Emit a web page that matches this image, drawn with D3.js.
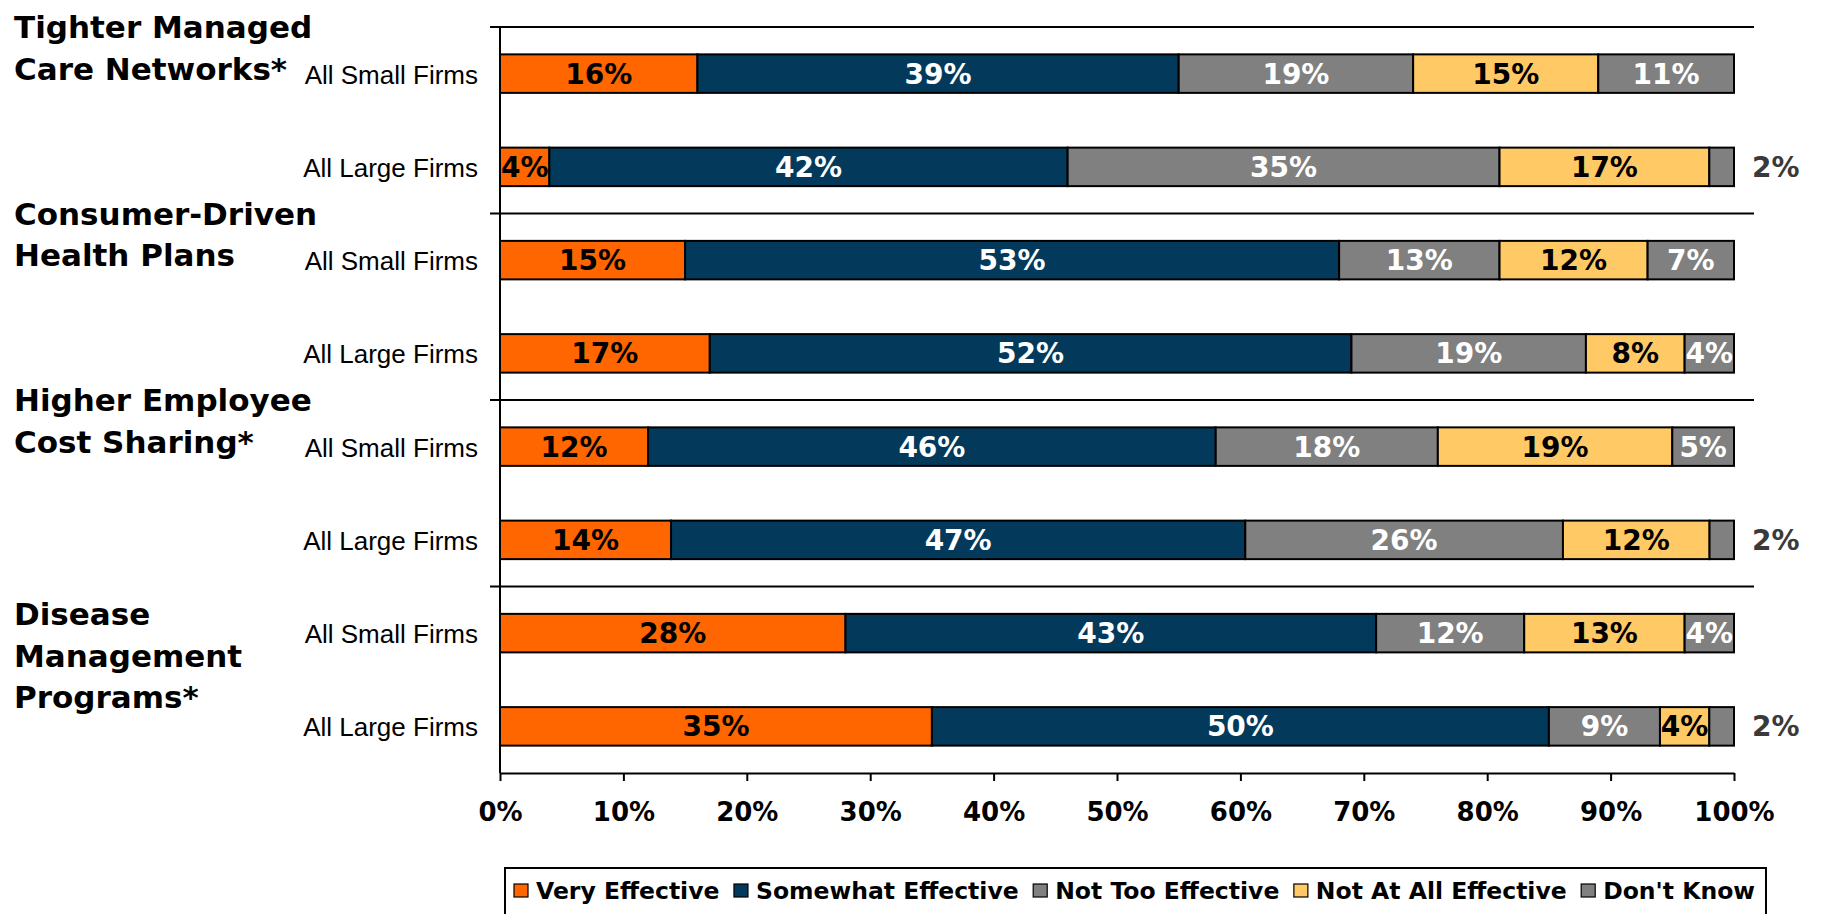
<!DOCTYPE html>
<html>
<head>
<meta charset="utf-8">
<script src="https://cdn.jsdelivr.net/npm/d3@7"></script>
<style>
  body { margin: 0; background: #ffffff; }
  svg { display: block; }
</style>
</head>
<body>
<svg id="chart" width="1828" height="914"></svg>
<script>
// Strategy groups (multi-line labels) and firm sizes within each group
const strategies = [
  ["Tighter Managed", "Care Networks*"],
  ["Consumer-Driven", "Health Plans"],
  ["Higher Employee", "Cost Sharing*"],
  ["Disease", "Management", "Programs*"]
];
const firmSizes = ["All Small Firms", "All Large Firms"];
const responses = ["Very Effective", "Somewhat Effective", "Not Too Effective", "Not At All Effective", "Don't Know"];

// Percent of firms giving each response, one entry per row (small, large for each strategy)
const veryEffective     = [16,  4, 15, 17, 12, 14, 28, 35];
const somewhatEffective = [39, 42, 53, 52, 46, 47, 43, 50];
const notTooEffective   = [19, 35, 13, 19, 18, 26, 12,  9];
const notAtAllEffective = [15, 17, 12,  8, 19, 12, 13,  4];
const dontKnow          = [11,  2,  7,  4,  5,  2,  4,  2];

const xTickValues = [0, 10, 20, 30, 40, 50, 60, 70, 80, 90, 100];
const xTickLabels = ["0%", "10%", "20%", "30%", "40%", "50%", "60%", "70%", "80%", "90%", "100%"];

const colors = ["#FF6600", "#033A5C", "#808080", "#FFC966", "#808080"];
const labelColors = ["#000000", "#ffffff", "#ffffff", "#000000", "#ffffff"];

// Build one record per bar
const series = [veryEffective, somewhatEffective, notTooEffective, notAtAllEffective, dontKnow];
const rows = [];
strategies.forEach((s, gi) => {
  firmSizes.forEach((f, fi) => {
    const i = gi * firmSizes.length + fi;
    const rec = { id: gi + "|" + f, group: gi, firm: f };
    responses.forEach((r, ri) => { rec[r] = series[ri][i]; });
    rows.push(rec);
  });
});

const svg = d3.select("#chart");

const x = d3.scaleLinear().domain([0, 1]).range([500, 1734]);
const y = d3.scaleBand()
  .domain(rows.map(d => d.id))
  .range([27, 773])
  .paddingInner(0.587)
  .paddingOuter(0.2935);

const stacked = d3.stack().keys(responses).offset(d3.stackOffsetExpand)(rows);

// Group separator lines (extend across the category label column)
const gap = y.step() * y.paddingInner() / 2;
const groupTops = strategies.map((s, gi) => y(rows[gi * firmSizes.length].id) - gap);
svg.append("g").selectAll("line")
  .data(groupTops)
  .join("line")
  .attr("x1", 490).attr("x2", 1754)
  .attr("y1", d => d).attr("y2", d => d)
  .attr("stroke", "#000").attr("stroke-width", 2);

// Stacked bars
const layers = svg.append("g").selectAll("g")
  .data(stacked)
  .join("g")
  .attr("fill", (d, i) => colors[i]);

layers.selectAll("rect")
  .data(d => d)
  .join("rect")
  .attr("x", d => x(d[0]))
  .attr("y", d => y(d.data.id))
  .attr("width", d => x(d[1]) - x(d[0]))
  .attr("height", y.bandwidth())
  .attr("stroke", "#000")
  .attr("stroke-width", 2);

// Value labels
const labels = svg.append("g")
  .attr("font-family", "DejaVu Sans, Verdana, sans-serif")
  .attr("font-weight", "bold")
  .attr("font-size", 28);

stacked.forEach((layer, li) => {
  layer.forEach(seg => {
    const v = seg.data[responses[li]];
    const cy = y(seg.data.id) + y.bandwidth() / 2 + 10;
    const inside = v >= 3;
    labels.append("text")
      .attr("x", inside ? (x(seg[0]) + x(seg[1])) / 2 : x(seg[1]) + 18)
      .attr("y", cy)
      .attr("text-anchor", inside ? "middle" : "start")
      .attr("fill", inside ? labelColors[li] : "#3a3a3a")
      .text(v + "%");
  });
});

// Vertical category axis line
svg.append("line")
  .attr("x1", x(0)).attr("x2", x(0))
  .attr("y1", y.range()[0]).attr("y2", y.range()[1])
  .attr("stroke", "#000").attr("stroke-width", 2);

// Bottom percentage axis
const xAxis = d3.axisBottom(x)
  .tickValues(xTickValues.map(v => v / 100))
  .tickFormat((d, i) => xTickLabels[i])
  .tickSize(8)
  .tickSizeOuter(0)
  .tickPadding(22);

const axisG = svg.append("g")
  .attr("transform", `translate(0,${y.range()[1]})`)
  .call(xAxis);
axisG.select(".domain").attr("stroke", "#000").attr("stroke-width", 2);
axisG.selectAll(".tick line").attr("stroke", "#000").attr("stroke-width", 2);
axisG.selectAll(".tick text")
  .attr("font-family", "DejaVu Sans, Verdana, sans-serif")
  .attr("font-weight", "bold")
  .attr("font-size", 26)
  .attr("fill", "#000");

// Firm size labels
svg.append("g").selectAll("text")
  .data(rows)
  .join("text")
  .attr("x", 478)
  .attr("y", d => y(d.id) + y.bandwidth() / 2 + 10)
  .attr("text-anchor", "end")
  .attr("font-family", "Liberation Sans, Arial, sans-serif")
  .attr("font-size", 26)
  .attr("fill", "#000")
  .text(d => d.firm);

// Strategy labels
const stratG = svg.append("g")
  .attr("font-family", "DejaVu Sans, Verdana, sans-serif")
  .attr("font-weight", "bold")
  .attr("font-size", 31)
  .attr("fill", "#000");
strategies.forEach((lines, gi) => {
  const first = groupTops[gi] + (lines.length > 2 ? 38.5 : 11);
  const t = stratG.append("text").attr("x", 14).attr("y", first);
  lines.forEach((ln, li) => {
    t.append("tspan").attr("x", 14).attr("y", first + li * 41.5).text(ln);
  });
});

// Legend
const legend = svg.append("g");
legend.append("rect")
  .attr("x", 505).attr("y", 868)
  .attr("width", 1261).attr("height", 60)
  .attr("fill", "#fff").attr("stroke", "#000").attr("stroke-width", 2);

const legendItems = legend.selectAll("g.item")
  .data(responses)
  .join("g").attr("class", "item");
legendItems.append("rect")
  .attr("width", 14).attr("height", 13)
  .attr("y", 884)
  .attr("fill", (d, i) => colors[i])
  .attr("stroke", "#000").attr("stroke-width", 1.2);
legendItems.append("text")
  .attr("y", 899)
  .attr("font-family", "DejaVu Sans, Verdana, sans-serif")
  .attr("font-weight", "bold")
  .attr("font-size", 23.5)
  .attr("fill", "#000")
  .text(d => d);

// Spread legend entries across the box
const widths = [];
legendItems.select("text").each(function () { widths.push(this.getComputedTextLength()); });
const startX = 514, endX = 1755, swatchGap = 22;
const total = widths.reduce((a, b) => a + b, 0) + responses.length * swatchGap;
const spacing = (endX - startX - total) / (responses.length - 1);
let cx = startX;
legendItems.each(function (d, i) {
  const g = d3.select(this);
  g.select("rect").attr("x", cx);
  g.select("text").attr("x", cx + swatchGap);
  cx += swatchGap + widths[i] + spacing;
});
</script>
</body>
</html>
